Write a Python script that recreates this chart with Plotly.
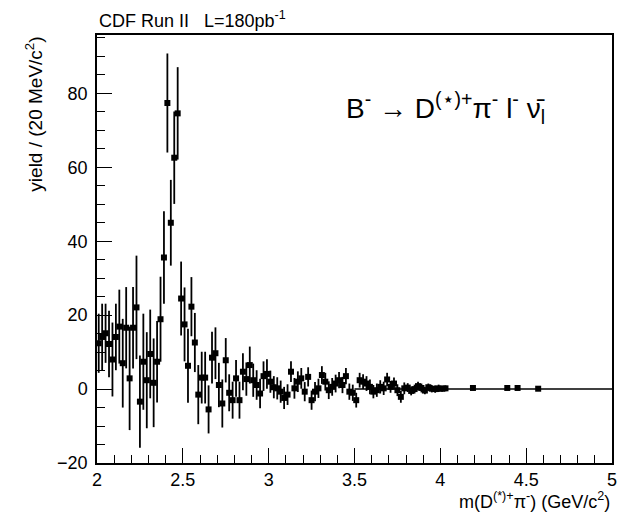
import plotly.graph_objects as go

# bin centres (GeV/c^2), 20 MeV bins
mass = [2.01, 2.03, 2.05, 2.07, 2.09, 2.11, 2.13, 2.15, 2.17, 2.19,
        2.21, 2.23, 2.25, 2.27, 2.29, 2.31, 2.33, 2.35, 2.37, 2.39,
        2.41, 2.43, 2.45, 2.47, 2.49, 2.51, 2.53, 2.55, 2.57, 2.59,
        2.61, 2.63, 2.65, 2.67, 2.69, 2.71, 2.73, 2.75, 2.77, 2.79,
        2.81, 2.83, 2.85, 2.87, 2.89, 2.91, 2.93, 2.95, 2.97, 2.99,
        3.01, 3.03, 3.05, 3.07, 3.09, 3.11, 3.13, 3.15, 3.17, 3.19,
        3.21, 3.23, 3.25, 3.27, 3.29, 3.31, 3.33, 3.35, 3.37, 3.39,
        3.41, 3.43, 3.45, 3.47, 3.49, 3.51, 3.53, 3.55, 3.57, 3.59,
        3.61, 3.63, 3.65, 3.67, 3.69, 3.71, 3.73, 3.75, 3.77, 3.79,
        3.81, 3.83, 3.85, 3.87, 3.89, 3.91, 3.93, 3.95, 3.97, 3.99,
        4.01, 4.03, 4.19, 4.39, 4.45, 4.57]

yield_ = [12.4, 14.1, 15.1, 12.2, 8.0, 14.1, 16.9, 7.0, 16.6, 2.9,
          16.6, 22.1, -3.4, 7.4, 2.4, 9.5, 1.7, 7.4, 18.9, 35.6,
          77.4, 45.0, 62.6, 74.6, 24.5, 17.5, 6.3, 22.3, 12.6, -1.5,
          3.1, 3.1, -5.5, 8.5, 9.7, 1.1, -3.9, 7.8, -1.0, -3.0,
          2.9, -3.0, 4.7, 2.7, 6.5, 2.4, 1.1, -1.2, 3.5, 4.1,
          2.0, 0.5, 0.2, -0.7, -2.4, -1.5, 4.7, 0.2, 2.0, 2.9,
          -0.7, 3.3, -3.0, -0.7, 0.2, 3.8, 2.0, -0.3, 0.6, 1.5,
          2.4, 1.1, 3.5, -0.7, -1.0, -3.0, 2.4, 2.0, 1.5, 0.6,
          -0.7, -0.3, 0.6, 0.2, 2.6, 0.6, 1.5, -0.3, -2.1, 0.2,
          0.4, -0.5, 0.0, 0.8, 0.3, -0.4, 0.5, 0.1, 0.0, 0.2,
          0.1, 0.2, 0.3, 0.3, 0.3, 0.1]

error = [8.0, 9.0, 8.0, 9.0, 10.0, 9.0, 10.0, 12.0, 11.0, 14.0,
         11.0, 14.0, 12.5, 13.0, 13.0, 12.0, 12.0, 11.0, 11.5, 12.5,
         13.4, 11.6, 12.5, 12.5, 10.0, 10.0, 10.0, 8.0, 8.0, 8.0,
         7.0, 7.0, 6.5, 7.0, 7.0, 6.0, 6.5, 6.0, 5.0, 5.0,
         5.0, 5.0, 5.0, 4.5, 5.0, 4.5, 4.0, 4.0, 4.0, 4.0,
         3.0, 3.0, 3.0, 3.0, 3.0, 2.8, 2.8, 2.8, 2.8, 2.8,
         2.6, 2.6, 2.6, 2.6, 2.6, 2.4, 2.4, 2.4, 2.4, 2.4,
         2.2, 2.2, 2.2, 2.2, 2.2, 2.0, 2.0, 2.0, 2.0, 2.0,
         1.8, 1.8, 1.8, 1.8, 1.8, 1.6, 1.6, 1.6, 1.6, 1.6,
         1.2, 1.2, 1.2, 1.2, 1.2, 1.0, 1.0, 1.0, 1.0, 1.0,
         0.8, 0.8, 0.5, 0.5, 0.5, 0.5]

fit_x = [3.5, 5.0]
fit_y = [0.0, 0.0]

x_ticks = [2, 2.5, 3, 3.5, 4, 4.5, 5]
y_ticks = [-20, 0, 20, 40, 60, 80]

FONT = "Liberation Sans, Arial, sans-serif"

fig = go.Figure()
fig.add_trace(go.Scatter(
    x=fit_x, y=fit_y, mode="lines",
    line=dict(color="black", width=1.5), showlegend=False, hoverinfo="skip"))
fig.add_trace(go.Scatter(
    x=mass, y=yield_, mode="markers",
    marker=dict(symbol="square", size=6, color="black"),
    error_y=dict(type="data", array=error, visible=True, color="black",
                 thickness=1.8, width=0),
    showlegend=False))

fig.update_xaxes(
    range=[2, 5], tickvals=x_ticks, ticktext=[str(v) for v in x_ticks],
    ticks="inside", ticklen=15, tickwidth=1.2, tickcolor="black",
    minor=dict(ticks="inside", ticklen=8, dtick=0.1, tick0=2, tickcolor="black", tickwidth=1.2),
    showline=True, linecolor="black", linewidth=1.5, mirror=True,
    showgrid=False, zeroline=False,
    tickfont=dict(family=FONT, size=18, color="black"))
fig.update_yaxes(
    range=[-20, 95.8], tickvals=y_ticks,
    ticks="inside", ticklen=15, tickwidth=1.2, tickcolor="black",
    minor=dict(ticks="inside", ticklen=8, dtick=5, tick0=0, tickcolor="black", tickwidth=1.2),
    showline=True, linecolor="black", linewidth=1.5, mirror=True,
    showgrid=False, zeroline=False, ticklabelstandoff=4,
    tickfont=dict(family=FONT, size=18, color="black"))

fig.add_annotation(
    text="CDF Run II   L=180pb<sup>-1</sup>", xref="paper", yref="paper",
    x=0.0, y=1.0, xanchor="left", yanchor="bottom", yshift=2, showarrow=False,
    font=dict(family=FONT, size=18, color="black"))
fig.add_annotation(
    text="yield / (20 MeV/c<sup>2</sup>)", xref="paper", yref="paper",
    x=-0.124, y=1.0, xanchor="center", yanchor="top", textangle=-90,
    showarrow=False, font=dict(family=FONT, size=19, color="black"))
fig.add_annotation(
    text="m(D<sup>(*)+</sup>π<sup>-</sup>) (GeV/c<sup>2</sup>)", xref="paper", yref="paper",
    x=1.0, y=0.0, xanchor="right", yanchor="top", yshift=-24, showarrow=False,
    font=dict(family=FONT, size=18, color="black"))
fig.add_annotation(
    text="B<sup>-</sup> → D<sup>(⋆)+</sup>π<sup>-</sup> l<sup>-</sup> ν̄<sub>l</sub>",
    xref="paper", yref="paper", x=0.48, y=0.83, xanchor="left", yanchor="middle",
    showarrow=False, font=dict(family=FONT, size=28, color="black"))

fig.update_layout(
    width=631, height=513,
    margin=dict(l=97, r=19, t=35, b=50),
    plot_bgcolor="white", paper_bgcolor="white",
    font=dict(family=FONT, color="black"))

fig.write_html("out.html", config={"displayModeBar": False},
               post_script="document.body.style.margin='0px';document.body.style.overflow='hidden';")
